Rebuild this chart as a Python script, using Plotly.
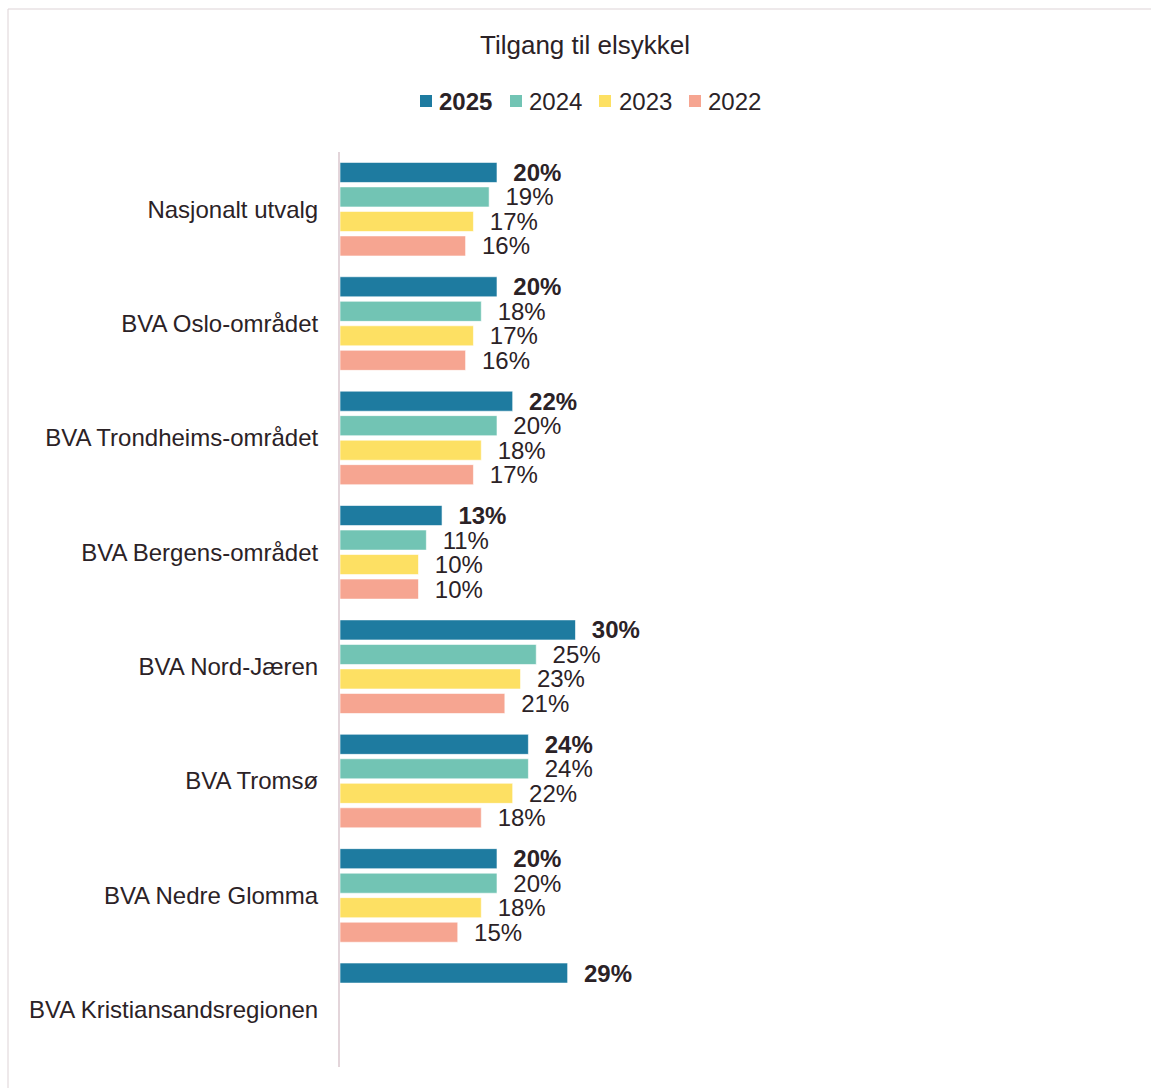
import plotly.graph_objects as go

# Survey areas, top to bottom
regions = [
    "Nasjonalt utvalg",
    "BVA Oslo-området",
    "BVA Trondheims-området",
    "BVA Bergens-området",
    "BVA Nord-Jæren",
    "BVA Tromsø",
    "BVA Nedre Glomma",
    "BVA Kristiansandsregionen",
]

# Share with access to an e-bike (%) per year
share_2025 = [20, 20, 22, 13, 30, 24, 20, 29]
share_2024 = [19, 18, 20, 11, 25, 24, 20, None]
share_2023 = [17, 17, 18, 10, 23, 22, 18, None]
share_2022 = [16, 16, 17, 10, 21, 18, 15, None]

years = ["2025", "2024", "2023", "2022"]
series = [share_2025, share_2024, share_2023, share_2022]
colors = ["#1e7ba0", "#72c4b4", "#fde063", "#f6a591"]

FONT = "Liberation Sans, Arial, sans-serif"
TEXT = "#2b2226"
PAD = "\u00a0\u00a0"

W, H = 1151, 1088
ML, MR, MT, MB = 340, 26, 152, 21
PW, PH = W - ML - MR, H - MT - MB


def px_x(px):
    return (px - ML) / PW


def px_y(py):
    return (H - MB - py) / PH


fig = go.Figure()
for year, vals, col in zip(years, series, colors):
    bold = year == "2025"
    labels = [
        None if v is None else (f"{PAD}<b>{v}%</b>" if bold else f"{PAD}{v}%")
        for v in vals
    ]
    fig.add_trace(go.Bar(
        y=regions,
        x=vals,
        orientation="h",
        name=year,
        marker=dict(color=col, line=dict(color="rgba(255,255,255,0.6)", width=1)),
        text=labels,
        texttemplate="%{text}",
        textposition="outside",
        constraintext="none",
        textfont=dict(family=FONT, size=24, color=TEXT),
        cliponaxis=False,
        hoverinfo="skip",
        showlegend=False,
    ))

# Legend row: colour key squares followed by the year labels
legend_marker_x = [420, 510, 599, 689]
legend_text_x = [437, 527, 617, 706]
legend_y = 101
shapes = []
annotations = []
for year, col, mx, tx in zip(years, colors, legend_marker_x, legend_text_x):
    shapes.append(dict(
        type="rect", xref="paper", yref="paper",
        x0=px_x(mx), x1=px_x(mx + 12),
        y0=px_y(legend_y + 6), y1=px_y(legend_y - 6),
        fillcolor=col, line=dict(width=0),
    ))
    annotations.append(dict(
        text=f"<b>{year}</b>" if year == "2025" else year,
        xref="paper", yref="paper",
        x=px_x(tx), y=px_y(legend_y),
        xanchor="left", yanchor="middle",
        showarrow=False,
        font=dict(family=FONT, size=24, color=TEXT),
    ))

annotations.append(dict(
    text="Tilgang til elsykkel",
    xref="paper", yref="paper",
    x=px_x(585), y=px_y(45),
    xanchor="center", yanchor="middle",
    showarrow=False,
    font=dict(family=FONT, size=26, color=TEXT),
))

# Outer frame of the chart area
shapes.append(dict(
    type="rect",
    xref="paper", yref="paper",
    x0=px_x(8), x1=px_x(W + 40), y0=px_y(H + 40), y1=px_y(9),
    line=dict(color="#ddd3d6", width=1),
    fillcolor="rgba(0,0,0,0)",
    layer="below",
))

fig.update_layout(
    width=W,
    height=H,
    margin=dict(l=ML, r=MR, t=MT, b=MB),
    paper_bgcolor="white",
    plot_bgcolor="white",
    barmode="group",
    bargap=0.143,
    bargroupgap=0.18,
    font=dict(family=FONT, size=24, color=TEXT),
    showlegend=False,
    xaxis=dict(
        range=[0, 100],
        visible=False,
        fixedrange=True,
    ),
    yaxis=dict(
        autorange="reversed",
        showline=True,
        linecolor="#e3d5da",
        linewidth=2,
        showgrid=False,
        ticks="",
        ticklabelstandoff=15,
        tickfont=dict(family=FONT, size=24, color=TEXT),
        fixedrange=True,
    ),
    annotations=annotations,
    shapes=shapes,
)

fig.write_html("out.html")
